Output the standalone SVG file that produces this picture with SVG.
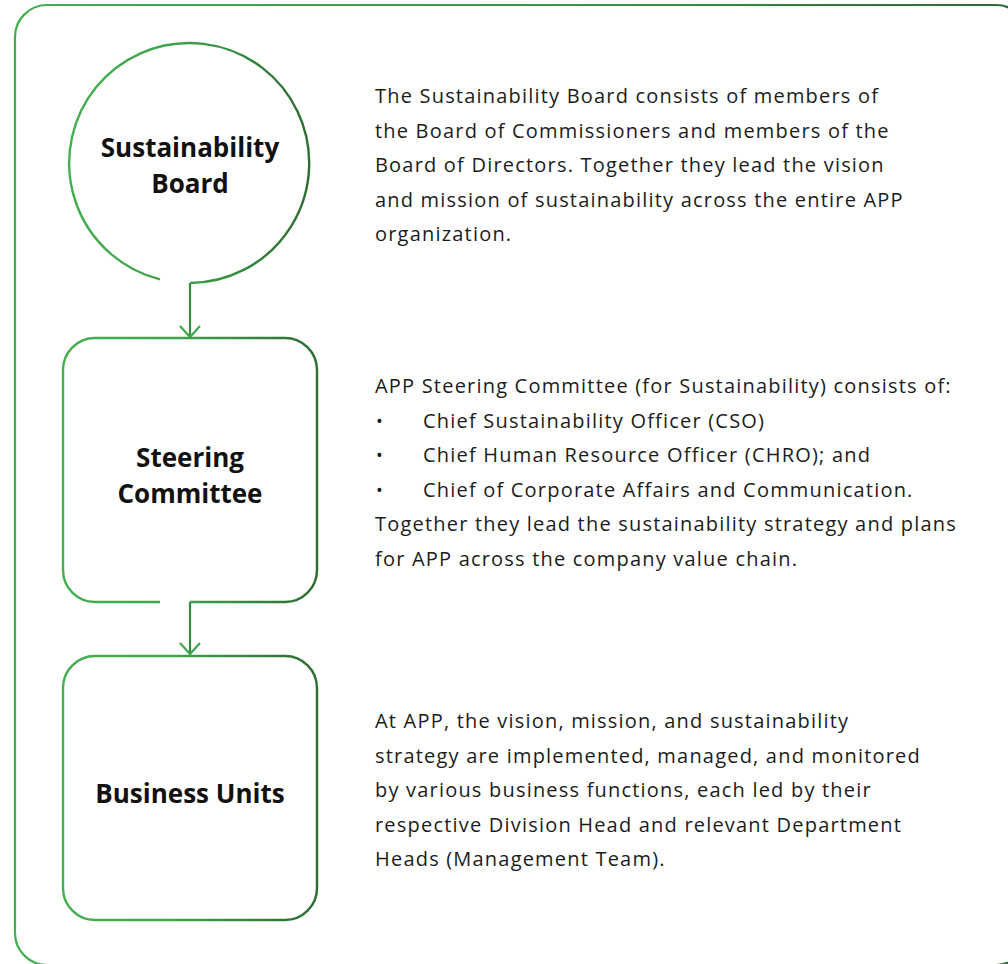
<svg xmlns="http://www.w3.org/2000/svg" width="1008" height="964" viewBox="0 0 1008 964">
  <defs>
    <linearGradient id="gFrame" gradientUnits="userSpaceOnUse" x1="15" y1="0" x2="1008" y2="0">
      <stop offset="0" stop-color="#43AF4F"/>
      <stop offset="0.55" stop-color="#3A9444"/>
      <stop offset="1" stop-color="#2D6B31"/>
    </linearGradient>
    <linearGradient id="gNode" x1="0" y1="0" x2="1" y2="0">
      <stop offset="0" stop-color="#43AF4F"/>
      <stop offset="0.45" stop-color="#3FA44B"/>
      <stop offset="1" stop-color="#2D6B31"/>
    </linearGradient>
  </defs>
  <style>
    .frame { fill: none; stroke: url(#gFrame); stroke-width: 2.2; }
    .node { fill: none; stroke: url(#gNode); stroke-width: 2.4; }
    .conn { fill: none; stroke: #37893F; stroke-width: 2.2; }
    .head { fill: none; stroke: #3FA84B; stroke-width: 2.2; }
    .label { font-family: "Open Sans", "Liberation Sans", sans-serif; font-weight: 700; font-size: 26px; fill: #111111; text-anchor: middle; }
    .desc { font-family: "Open Sans", "Liberation Sans", sans-serif; font-size: 20px; letter-spacing: 1.2px; fill: #1c1c1c; }
    .bullet { font-family: "Open Sans", "Liberation Sans", sans-serif; font-size: 18px; fill: #1c1c1c; }
  </style>

  <rect width="1008" height="964" fill="#ffffff"/>

  <g id="frame">
    <rect class="frame" x="15" y="5" width="1013" height="960" rx="32" ry="32"/>
  </g>

  <g id="connectors">
    <path class="conn" d="M190 283 V337"/>
    <path class="head" d="M180 326 L190 337 L200 326"/>
    <path class="conn" d="M190 602 V654"/>
    <path class="head" d="M180 643 L190 654 L200 643"/>
  </g>

  <g id="node-sustainability-board">
    <path class="node" d="M160 279.4 A120 120 0 1 1 190 283"/>
    <text class="label" x="190" y="157">Sustainability</text>
    <text class="label" x="190" y="193">Board</text>
  </g>

  <g id="node-steering-committee">
    <path class="node" d="M190 602 H285 A32 32 0 0 0 317 570 V370 A32 32 0 0 0 285 338 H95 A32 32 0 0 0 63 370 V570 A32 32 0 0 0 95 602 H160"/>
    <text class="label" x="190" y="467">Steering</text>
    <text class="label" x="190" y="503">Committee</text>
  </g>

  <g id="node-business-units">
    <rect class="node" x="63" y="656" width="254" height="264" rx="32" ry="32"/>
    <text class="label" x="190" y="803">Business Units</text>
  </g>

  <g id="desc-board">
    <text class="desc" x="375" y="103">The Sustainability Board consists of members of</text>
    <text class="desc" x="375" y="137.5">the Board of Commissioners and members of the</text>
    <text class="desc" x="375" y="172">Board of Directors. Together they lead the vision</text>
    <text class="desc" x="375" y="206.5">and mission of sustainability across the entire APP</text>
    <text class="desc" x="375" y="241">organization.</text>
  </g>

  <g id="desc-steering">
    <text class="desc" x="375" y="393">APP Steering Committee (for Sustainability) consists of:</text>
    <text class="bullet" x="376" y="427.5">&#8226;</text>
    <text class="desc" x="423" y="427.5">Chief Sustainability Officer (CSO)</text>
    <text class="bullet" x="376" y="462">&#8226;</text>
    <text class="desc" x="423" y="462">Chief Human Resource Officer (CHRO); and</text>
    <text class="bullet" x="376" y="496.5">&#8226;</text>
    <text class="desc" x="423" y="496.5">Chief of Corporate Affairs and Communication.</text>
    <text class="desc" x="375" y="531">Together they lead the sustainability strategy and plans</text>
    <text class="desc" x="375" y="565.5">for APP across the company value chain.</text>
  </g>

  <g id="desc-business-units">
    <text class="desc" x="375" y="728">At APP, the vision, mission, and sustainability</text>
    <text class="desc" x="375" y="762.5">strategy are implemented, managed, and monitored</text>
    <text class="desc" x="375" y="797">by various business functions, each led by their</text>
    <text class="desc" x="375" y="831.5">respective Division Head and relevant Department</text>
    <text class="desc" x="375" y="866">Heads (Management Team).</text>
  </g>
</svg>
